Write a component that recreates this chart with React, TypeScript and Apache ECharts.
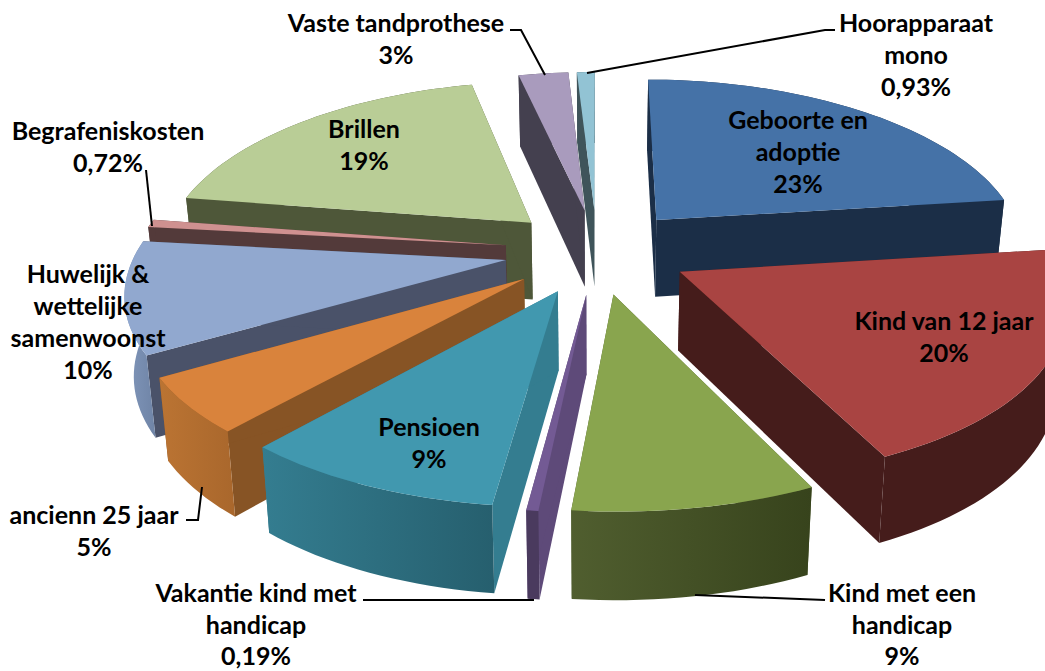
import React, { useEffect, useRef } from "react";
import * as echarts from "echarts";

const categories = ["Geboorte en adoptie", "Kind van 12 jaar", "Kind met een handicap", "Vakantie kind met handicap", "Pensioen", "ancienn 25 jaar", "Huwelijk & wettelijke samenwoonst", "Begrafeniskosten", "Brillen", "Vaste tandprothese", "Hoorapparaat mono"];
const values = [23, 20, 8.6, 0.19, 9.4, 5.1, 10.3, 0.72, 19, 2.6, 0.93];
const percentLabels = ["23%", "20%", "9%", "0,19%", "9%", "5%", "10%", "0,72%", "19%", "3%", "0,93%"];
const wrappedNames = ["Geboorte en\nadoptie", "Kind van 12 jaar", "Kind met een\nhandicap", "Vakantie kind met\nhandicap", "Pensioen", "ancienn 25 jaar", "Huwelijk &\nwettelijke\nsamenwoonst", "Begrafeniskosten", "Brillen", "Vaste tandprothese", "Hoorapparaat\nmono"];

const topColors = ["#4572a7", "#a94442", "#89a54e", "#735a94", "#4198af", "#d9833c", "#91a8cf", "#cf9190", "#b9cd96", "#a99bbd", "#92c3d4"];
const radialColors = ["#1b2e47", "#451c1b", "#4f5c2e", "#5e4a79", "#347d90", "#875425", "#4a5269", "#533a3a", "#4e5739", "#44404f", "#3f545a"];
const wallLeft = ["#1b2e47", "#451c1b", "#505e2f", "#4a3a5e", "#347d90", "#bb7433", "#8197bb", "#533a3a", "#4e5739", "#44404f", "#3f545a"];
const wallRight = ["#1b2e47", "#451c1b", "#37431c", "#4a3a5e", "#265f6e", "#a9672c", "#6f84a6", "#533a3a", "#4e5739", "#44404f", "#3f545a"];

// label placement: centre x, y of first line
const labelPos: number[][] = [[798, 119], [944, 320], [902, 592], [256, 592], [429, 426], [94, 514], [88, 273], [108, 130], [364, 128], [396, 22], [916, 22]];
const LINE_STEP = 32;
const LINE_STEP_BOTTOM = 31.5;
const leaders: number[][][] = [
  [[510, 30], [521, 30], [545, 75]],
  [[587, 73], [825, 30], [835, 30]],
  [[146, 170], [152, 226]],
  [[186, 520], [198, 520], [202, 487]],
  [[363, 600], [534, 600]],
  [[825, 600], [695, 595]],
];

const CX = 597, CY = 251, RX = 370, RY = 170, PX = 0.165, PY = 0.15, EXPLODE = 0.25, MIN_DRAWN = 0.42;
const drawn = values.map((v) => Math.max(v, MIN_DRAWN));
const total = drawn.reduce((a, b) => a + b, 0);

function project(X: number, Y: number) {
  const sx = 1 / (1 + PX * Y);
  const sy = 1 / (1 + PY * Y);
  return { x: CX + X * RX * sx, y: CY - Y * RY * sy, s: sx };
}
function lower(p: { x: number; y: number; s: number }) {
  const h = 37 + 41 * p.s;
  return [CX + (p.x - CX) * 0.98, p.y + h];
}

function renderSlice(params: any) {
  const i = params.dataIndex;
  let before = 0;
  for (let k = 0; k < i; k++) before += drawn[k];
  const a0 = (before / total) * Math.PI * 2;
  const a1 = ((before + drawn[i]) / total) * Math.PI * 2;
  const mid = (a0 + a1) / 2;
  const ox = Math.sin(mid) * EXPLODE, oy = Math.cos(mid) * EXPLODE;
  const apex = project(ox, oy);
  const steps = Math.max(4, Math.ceil((a1 - a0) / 0.03));
  const arc: any[] = [];
  for (let k = 0; k <= steps; k++) {
    const a = a0 + ((a1 - a0) * k) / steps;
    arc.push(project(ox + Math.sin(a), oy + Math.cos(a)));
  }
  const order = Math.round((2 - oy) * 1000);
  const xy = (p: any) => [p.x, p.y];
  const wall = (p: any, q: any, fill: string, z: number) => ({
    type: "polygon",
    z2: order + z,
    shape: { points: [xy(p), xy(q), lower(q), lower(p)] },
    style: { fill },
  });
  const outerTop = arc.map(xy);
  const outerBottom = arc.map(lower).reverse();
  return {
    type: "group",
    children: [
      wall(apex, arc[0], radialColors[i], 1),
      wall(apex, arc[arc.length - 1], radialColors[i], 1),
      {
        type: "polygon",
        z2: order + 2,
        shape: { points: [...outerTop, ...outerBottom] },
        style: {
          fill: new echarts.graphic.LinearGradient(0, 0, 1, 0, [
            { offset: 0, color: wallLeft[i] },
            { offset: 1, color: wallRight[i] },
          ]),
        },
      },
      {
        type: "polygon",
        z2: order + 3,
        shape: { points: [xy(apex), ...outerTop] },
        style: { fill: topColors[i] },
      },
    ],
  };
}

export default function App() {
  const ref = useRef<HTMLDivElement>(null);
  useEffect(() => {
    document.body.style.margin = "0";
    const chart = echarts.init(ref.current!, null, { renderer: "svg" });
    const textEls: any[] = [];
    categories.forEach((_, i) => {
      const step = labelPos[i][1] > 580 ? LINE_STEP_BOTTOM : LINE_STEP;
      (wrappedNames[i] + "\n" + percentLabels[i]).split("\n").forEach((line, k) => {
        textEls.push({
          type: "text",
          z: 11,
          x: labelPos[i][0],
          y: labelPos[i][1] + k * step,
          style: {
            text: line,
            font: "bold 25px Lato, Carlito, sans-serif",
            fill: "#000",
            align: "center",
            verticalAlign: "middle",
          },
        });
      });
    });
    chart.setOption({
      animation: false,
      backgroundColor: "#ffffff",
      series: [
        {
          type: "custom",
          coordinateSystem: "none",
          renderItem: renderSlice,
          silent: true,
          data: categories.map((name, i) => ({ name, value: [values[i]] })),
          z: 1,
        },
      ],
      graphic: [
        ...leaders.map((pts) => ({
          type: "polyline",
          z: 10,
          shape: { points: pts },
          style: { stroke: "#000", lineWidth: 2, fill: "none" },
        })),
        ...textEls,
      ],
    });
    return () => chart.dispose();
  }, []);
  return <div ref={ref} style={{ width: 1045, height: 671, overflow: "hidden" }} />;
}
